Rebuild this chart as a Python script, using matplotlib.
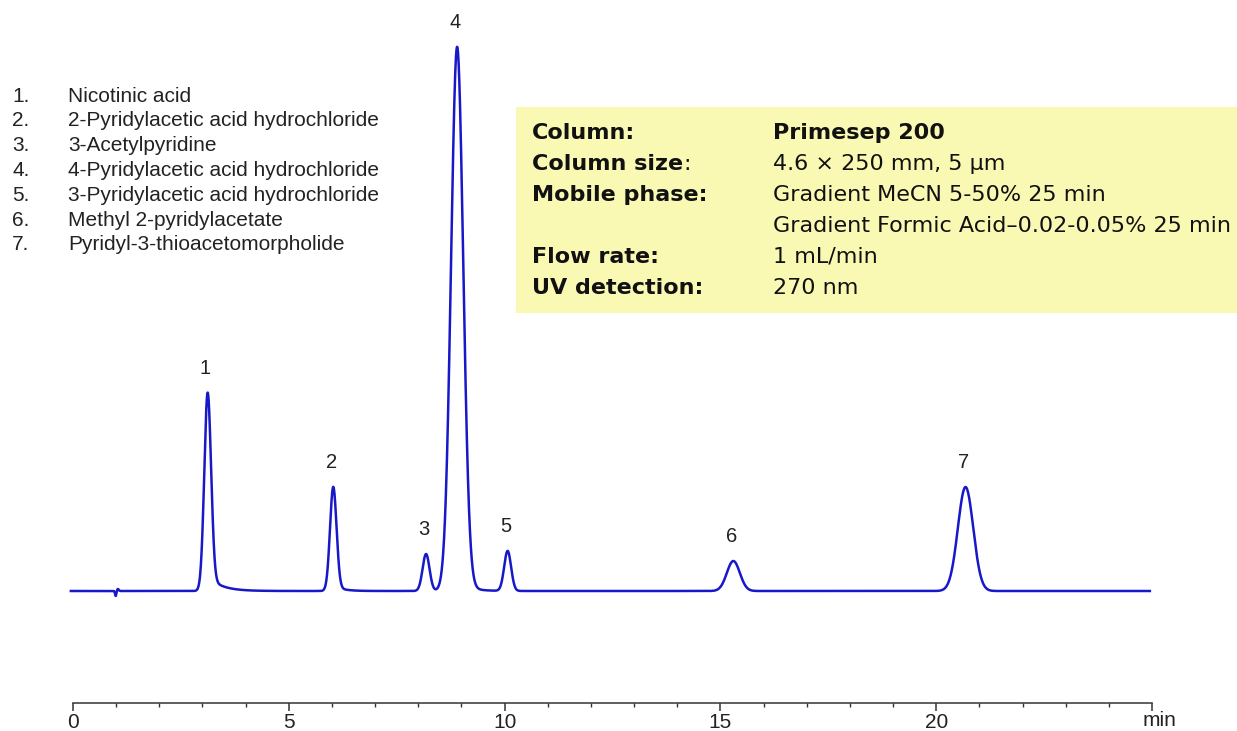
#HPLC chromatogram - peak table
import numpy as np
from matplotlib import pyplot as plt
from matplotlib.patches import Rectangle

plt.rcParams['font.family'] = ['Liberation Sans', 'DejaVu Sans']

#peak table (retention time in min, height in detector units, sigma in min)
peak_ids = ['1', '2', '3', '4', '5', '6', '7']
retention = [3.12, 6.03, 8.18, 8.90, 10.07, 15.30, 20.68]
heights = [198, 104, 37, 544, 40, 30, 104]
widths = [0.078, 0.075, 0.080, 0.140, 0.080, 0.150, 0.178]
tails = [12, 4, 0, 6, 0, 0, 0]
tail_tau = [0.3, 0.2, 0.2, 0.25, 0.2, 0.2, 0.2]

#small injection blip
blip_time = [0.99, 1.04]
blip_height = [-5, 2]
blip_width = [0.015, 0.02]

compounds = ['Nicotinic acid',
             '2-Pyridylacetic acid hydrochloride',
             '3-Acetylpyridine',
             '4-Pyridylacetic acid hydrochloride',
             '3-Pyridylacetic acid hydrochloride',
             'Methyl 2-pyridylacetate',
             'Pyridyl-3-thioacetomorpholide']

cond_labels = ['Column:', 'Column size', 'Mobile phase:', '', 'Flow rate:', 'UV detection:']
cond_values = ['Primesep 200', '4.6 × 250 mm, 5 µm', 'Gradient MeCN 5-50% 25 min',
               'Gradient Formic Acid–0.02-0.05% 25 min', '1 mL/min', '270 nm']

#build the trace from the peak table
t = np.linspace(-0.05, 24.95, 6000)
signal = np.zeros_like(t)
for rt, h, w, tl, tau in zip(retention, heights, widths, tails, tail_tau):
    signal += h * np.exp(-0.5 * ((t - rt) / w) ** 2)
    if tl:
        step = 0.5 * (1 + np.tanh((t - rt - w) / (0.6 * w)))
        signal += tl * step * np.exp(-np.clip(t - rt - w, 0, None) / tau)
for bt, bh, bw in zip(blip_time, blip_height, blip_width):
    signal += bh * np.exp(-0.5 * ((t - bt) / bw) ** 2)

W, H = 1237, 731
fig = plt.figure(figsize=(W / 100, H / 100), dpi=100)

#yellow conditions box
fig.add_artist(Rectangle((516 / W, 1 - 313 / H), (W - 516) / W, 206 / H,
                         transform=fig.transFigure, facecolor='#f9f9b3',
                         edgecolor='none', zorder=0))

ax = fig.add_axes([73 / W, 28 / H, (1152 - 73) / W, 675 / H])
ax.patch.set_alpha(0)
ax.plot(t, signal, color='#1818c8', lw=1.8, clip_on=False)
ax.set_xlim(0, 25)
ax.set_ylim(-112, 563)

for s in ['left', 'top', 'right']:
    ax.spines[s].set_visible(False)
ax.spines['bottom'].set_color('#333333')
ax.spines['bottom'].set_linewidth(1.1)
ax.set_yticks([])
ax.set_xticks([0, 5, 10, 15, 20, 25])
ax.set_xticklabels(['0', '5', '10', '15', '20', ''])
ax.set_xticks(np.arange(0, 26, 1), minor=True)
ax.tick_params(axis='x', which='major', length=6, width=1.1, color='#333333',
               labelsize=15, pad=1, labelcolor='#222222')
ax.tick_params(axis='x', which='minor', length=3, width=1.0, color='#333333')
ax.text(25.17, -0.012, 'min', transform=ax.get_xaxis_transform(), ha='center',
        va='top', fontsize=15, color='#222222')

#peak numbers
for pid, rt, h in zip(peak_ids, retention, heights):
    ax.text(rt - 0.05, h + 15, pid, ha='center', va='bottom', fontsize=14.5, color='#222222')

#compound list
for i, name in enumerate(compounds):
    y = 1 - (96 + i * 24.8) / H
    fig.text(12 / W, y, f'{i + 1}.', fontsize=15, va='center', color='#222222')
    fig.text(68 / W, y, name, fontsize=15, va='center', color='#222222')

#conditions text (reference font is wide, DejaVu gets closer)
box_font = dict(fontsize=16, va='center', color='#111111', family='DejaVu Sans')
for i, (lab, val) in enumerate(zip(cond_labels, cond_values)):
    y = 1 - (133 + i * 31) / H
    if lab:
        tx = fig.text(532 / W, y, lab, weight='bold', **box_font)
        if lab == 'Column size':
            ax.annotate(':', xy=(1, 0.5), xycoords=tx, ha='left', **box_font)
    fig.text(773 / W, y, val, weight='bold' if i == 0 else 'normal', **box_font)

fig.savefig('out.png', dpi=100)
